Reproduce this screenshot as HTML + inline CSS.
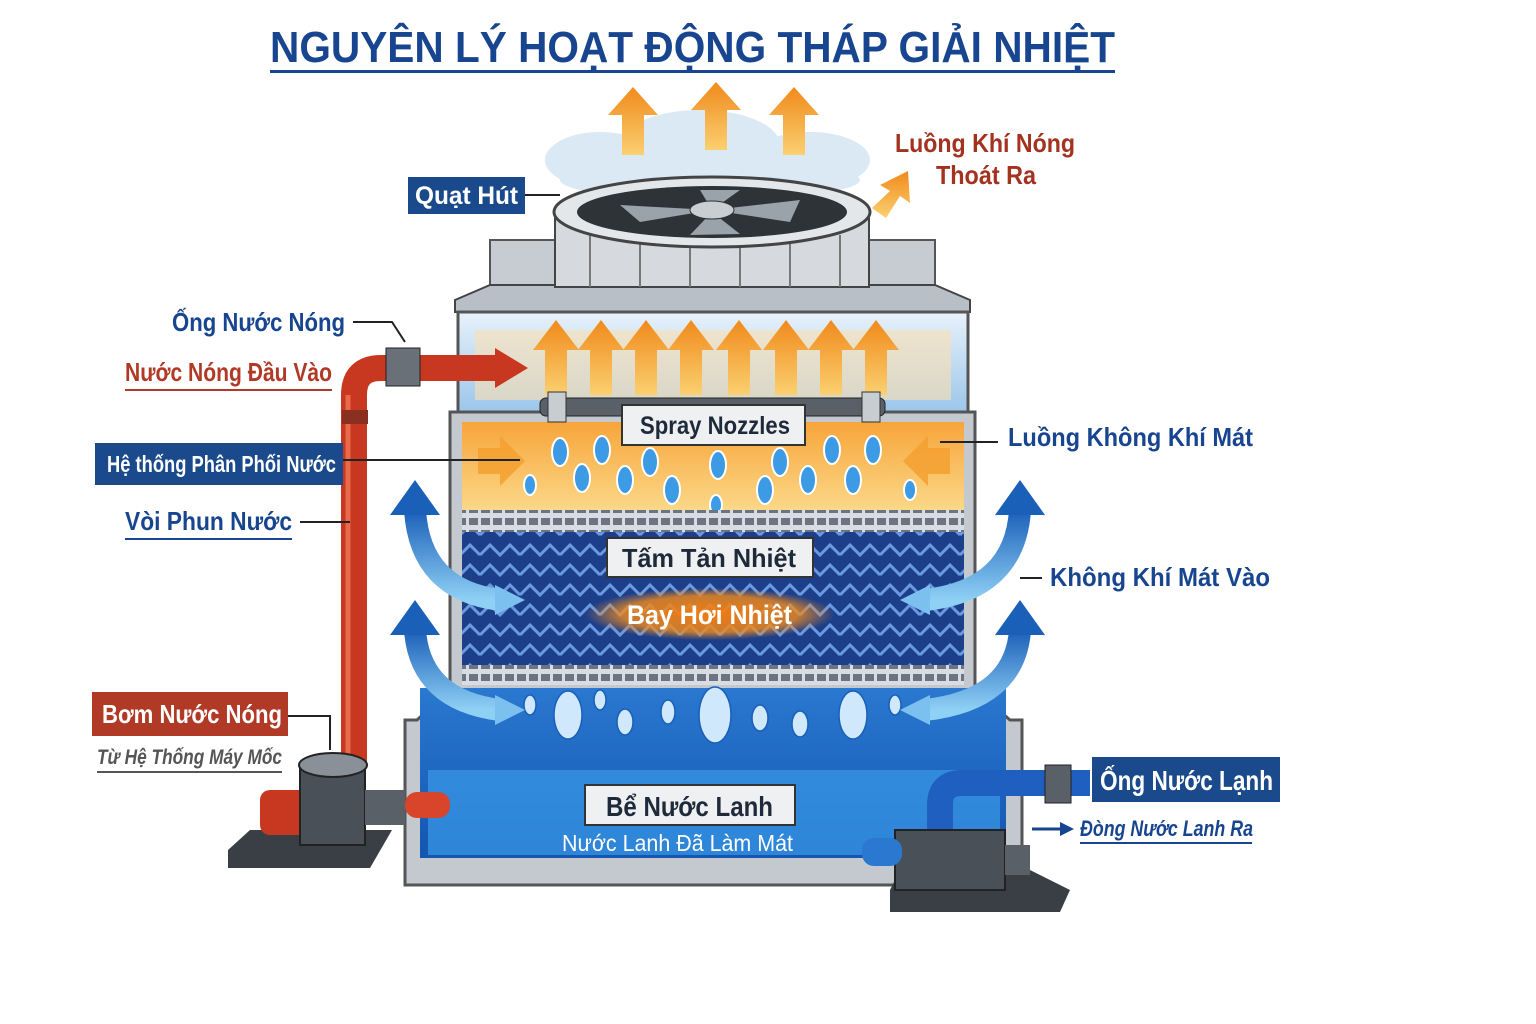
<!DOCTYPE html>
<html><head><meta charset="utf-8"><style>
html,body{margin:0;padding:0;background:#fff}
svg{display:block}
text{font-family:"Liberation Sans",sans-serif;font-weight:bold}
</style></head><body>
<svg width="1536" height="1024" viewBox="0 0 1536 1024" xmlns="http://www.w3.org/2000/svg">
<defs>
<linearGradient id="orange" x1="0" y1="0" x2="0" y2="1"><stop offset="0" stop-color="#f7a53a"/><stop offset="1" stop-color="#fbd98a"/></linearGradient>
<linearGradient id="water" x1="0" y1="0" x2="0" y2="1"><stop offset="0" stop-color="#2a78d0"/><stop offset="1" stop-color="#1456b0"/></linearGradient>
<linearGradient id="sky" x1="0" y1="0" x2="0" y2="1"><stop offset="0" stop-color="#e8f2fb"/><stop offset="1" stop-color="#9cc6ea"/></linearGradient>
<linearGradient id="arr" x1="0" y1="1" x2="0" y2="0"><stop offset="0" stop-color="#fbd070"/><stop offset="1" stop-color="#f08a1c"/></linearGradient>
<linearGradient id="barr" x1="0" y1="1" x2="0" y2="0"><stop offset="0" stop-color="#8fd0f5"/><stop offset="1" stop-color="#1a5fb8"/></linearGradient>
<radialGradient id="glow"><stop offset="0" stop-color="#f07a10"/><stop offset="0.7" stop-color="#f08a1c" stop-opacity="0.8"/><stop offset="1" stop-color="#f08a1c" stop-opacity="0"/></radialGradient>
<pattern id="zig" width="40" height="20" patternUnits="userSpaceOnUse"><rect width="40" height="20" fill="#1d3f8a"/><path d="M0 15 L10 5 L20 15 L30 5 L40 15" stroke="#6a9ae0" stroke-width="3" fill="none"/></pattern>
<pattern id="grate" width="12" height="12" patternUnits="userSpaceOnUse"><rect width="12" height="12" fill="#d8dde3"/><rect x="1" y="2" width="9" height="7" fill="#6b7480"/></pattern>
</defs>

<!-- title -->
<text x="270" y="62" textLength="845" lengthAdjust="spacingAndGlyphs" font-size="44" fill="#17458f">NGUYÊN LÝ HOẠT ĐỘNG THÁP GIẢI NHIỆT</text>
<rect x="270" y="70" width="845" height="3" fill="#17458f"/>

<!-- cloud -->
<g fill="#dbe9f5">
<ellipse cx="600" cy="160" rx="55" ry="28"/><ellipse cx="700" cy="145" rx="80" ry="35"/><ellipse cx="810" cy="160" rx="60" ry="28"/><ellipse cx="710" cy="180" rx="150" ry="20"/>
</g>
<g fill="url(#arr)">
<path d="M622 155 h22 v-40 h14 l-25 -28 l-25 28 h14z"/>
<path d="M705 150 h22 v-40 h14 l-25 -28 l-25 28 h14z"/>
<path d="M783 155 h22 v-40 h14 l-25 -28 l-25 28 h14z"/>
<path d="M872 208 l14 10 l14 -22 l10 7 l-2 -32 l-28 14 l10 6z"/>
</g>
<text x="895" y="152" textLength="180" lengthAdjust="spacingAndGlyphs" font-size="26" fill="#a3321f">Luồng Khí Nóng</text>
<text x="936" y="184" textLength="100" lengthAdjust="spacingAndGlyphs" font-size="26" fill="#a3321f">Thoát Ra</text>

<!-- roof -->
<polygon points="490,240 935,240 935,290 490,290" fill="#c7ccd2" stroke="#555" stroke-width="2"/>
<polygon points="455,300 490,285 935,285 970,300 970,312 455,312" fill="#b9bfc6" stroke="#444" stroke-width="2"/>
<rect x="555" y="212" width="314" height="75" fill="#d6dade" stroke="#444" stroke-width="2"/>
<g stroke="#777" stroke-width="2"><line x1="590" y1="235" x2="590" y2="287"/><line x1="640" y1="240" x2="640" y2="287"/><line x1="690" y1="242" x2="690" y2="287"/><line x1="740" y1="242" x2="740" y2="287"/><line x1="790" y1="240" x2="790" y2="287"/><line x1="840" y1="235" x2="840" y2="287"/></g>
<ellipse cx="712" cy="212" rx="158" ry="35" fill="#e4e7ea" stroke="#444" stroke-width="3"/>
<ellipse cx="712" cy="212" rx="135" ry="26" fill="#2e3338"/>
<g fill="#9aa2aa"><path d="M712 210 L620 205 L640 222z"/><path d="M712 210 L800 200 L790 222z"/><path d="M712 210 L700 190 L740 190z"/><path d="M712 212 L690 235 L740 234z"/></g>
<ellipse cx="712" cy="210" rx="22" ry="9" fill="#c9ced3" stroke="#333"/>
<rect x="408" y="177" width="117" height="37" fill="#1a4a8c"/>
<text x="415" y="204" textLength="103" lengthAdjust="spacingAndGlyphs" font-size="25" fill="#fff">Quạt Hút</text>
<line x1="525" y1="195" x2="560" y2="195" stroke="#222" stroke-width="2"/>

<!-- upper chamber -->
<rect x="458" y="312" width="510" height="100" fill="url(#sky)" stroke="#555" stroke-width="3"/>
<rect x="475" y="330" width="476" height="70" fill="#fbe0b0" opacity="0.6"/>
<g fill="url(#arr)">
<path d="M545 395 h22 v-45 h12 l-23 -30 l-23 30 h12z"/>
<path d="M590 395 h22 v-45 h12 l-23 -30 l-23 30 h12z"/>
<path d="M635 395 h22 v-45 h12 l-23 -30 l-23 30 h12z"/>
<path d="M680 395 h22 v-45 h12 l-23 -30 l-23 30 h12z"/>
<path d="M728 395 h22 v-45 h12 l-23 -30 l-23 30 h12z"/>
<path d="M775 395 h22 v-45 h12 l-23 -30 l-23 30 h12z"/>
<path d="M820 395 h22 v-45 h12 l-23 -30 l-23 30 h12z"/>
<path d="M865 395 h22 v-45 h12 l-23 -30 l-23 30 h12z"/>
</g>

<!-- main body -->
<polygon points="450,412 975,412 975,690 1010,720 1022,720 1022,885 405,885 405,720 417,720 450,690" fill="#c4c9cf" stroke="#555" stroke-width="3"/>
<rect x="462" y="422" width="502" height="90" fill="url(#orange)"/>
<g fill="#3d9be6" stroke="#fff" stroke-width="2">
<ellipse cx="560" cy="452" rx="8" ry="14"/><ellipse cx="602" cy="450" rx="8" ry="14"/><ellipse cx="650" cy="462" rx="8" ry="14"/><ellipse cx="718" cy="465" rx="8" ry="14"/><ellipse cx="780" cy="462" rx="8" ry="14"/><ellipse cx="832" cy="450" rx="8" ry="14"/><ellipse cx="873" cy="450" rx="8" ry="14"/>
<ellipse cx="582" cy="478" rx="8" ry="14"/><ellipse cx="625" cy="480" rx="8" ry="14"/><ellipse cx="672" cy="490" rx="8" ry="14"/><ellipse cx="765" cy="490" rx="8" ry="14"/><ellipse cx="808" cy="480" rx="8" ry="14"/><ellipse cx="853" cy="480" rx="8" ry="14"/><ellipse cx="530" cy="485" rx="6" ry="10"/><ellipse cx="910" cy="490" rx="6" ry="10"/><ellipse cx="716" cy="505" rx="6" ry="10"/>
</g>
<path d="M478 448 h22 v-12 l25 25 l-25 25 v-12 h-22z" fill="#f5a030" opacity="0.85"/>
<path d="M950 448 h-22 v-12 l-25 25 l25 25 v-12 h22z" fill="#f5a030" opacity="0.85"/>
<rect x="540" y="398" width="345" height="18" rx="6" fill="#5a6068" stroke="#222"/>
<rect x="548" y="392" width="18" height="30" fill="#c8cdd2" stroke="#333"/><rect x="862" y="392" width="18" height="30" fill="#c8cdd2" stroke="#333"/>
<rect x="622" y="405" width="183" height="40" fill="#eef0f2" stroke="#333" stroke-width="2"/>
<text x="640" y="434" textLength="150" lengthAdjust="spacingAndGlyphs" font-size="25" fill="#1e2a3a">Spray Nozzles</text>
<line x1="940" y1="442" x2="998" y2="442" stroke="#222" stroke-width="2"/>
<text x="1008" y="446" textLength="245" lengthAdjust="spacingAndGlyphs" font-size="26" fill="#17458f">Luồng Không Khí Mát</text>

<!-- fill -->
<rect x="462" y="510" width="502" height="22" fill="url(#grate)"/>
<rect x="462" y="532" width="502" height="135" fill="url(#zig)"/>
<rect x="462" y="665" width="502" height="20" fill="url(#grate)"/>
<rect x="607" y="538" width="206" height="39" fill="#eef0f2" stroke="#333" stroke-width="2"/>
<text x="622" y="567" textLength="174" lengthAdjust="spacingAndGlyphs" font-size="26" fill="#1e2a3a">Tấm Tản Nhiệt</text>
<ellipse cx="710" cy="614" rx="125" ry="26" fill="url(#glow)"/>
<text x="627" y="624" textLength="165" lengthAdjust="spacingAndGlyphs" font-size="27" fill="#fff">Bay Hơi Nhiệt</text>

<!-- basin -->
<rect x="420" y="688" width="586" height="170" fill="url(#water)"/>
<rect x="428" y="770" width="572" height="85" fill="#3a9ae8" opacity="0.7"/>
<g fill="#cfe8fb" stroke="#1a5fb8" stroke-width="1.5">
<ellipse cx="568" cy="715" rx="14" ry="24"/><ellipse cx="715" cy="715" rx="16" ry="28"/><ellipse cx="853" cy="715" rx="14" ry="24"/><ellipse cx="625" cy="722" rx="8" ry="13"/><ellipse cx="668" cy="712" rx="7" ry="12"/><ellipse cx="760" cy="718" rx="8" ry="13"/><ellipse cx="800" cy="724" rx="8" ry="13"/><ellipse cx="530" cy="705" rx="6" ry="10"/><ellipse cx="895" cy="705" rx="6" ry="10"/><ellipse cx="600" cy="700" rx="6" ry="10"/>
</g>
<rect x="585" y="785" width="210" height="40" fill="#eef0f2" stroke="#333" stroke-width="2"/>
<text x="606" y="816" textLength="167" lengthAdjust="spacingAndGlyphs" font-size="28" fill="#1e2a3a">Bể Nước Lanh</text>
<text x="562" y="851" textLength="231" lengthAdjust="spacingAndGlyphs" font-size="23" fill="#fff" style="font-weight:normal">Nước Lanh Đã Làm Mát</text>

<!-- blue air arrows -->
<g fill="none" stroke="url(#barr)" stroke-width="22">
<path d="M500 600 Q420 590 415 510"/><path d="M500 710 Q420 700 415 630"/>
<path d="M925 600 Q1015 590 1020 510"/><path d="M925 710 Q1015 700 1020 630"/>
</g>
<g fill="#1a5fb8"><path d="M390 515 l25 -35 l25 35z"/><path d="M390 635 l25 -35 l25 35z"/><path d="M995 515 l25 -35 l25 35z"/><path d="M995 635 l25 -35 l25 35z"/></g>
<g fill="#7cc0f0"><path d="M495 585 l30 15 l-30 15z"/><path d="M495 695 l30 15 l-30 15z"/><path d="M930 585 l-30 15 l30 15z"/><path d="M930 695 l-30 15 l30 15z"/></g>
<line x1="1020" y1="578" x2="1042" y2="578" stroke="#222" stroke-width="2"/>
<text x="1050" y="586" textLength="220" lengthAdjust="spacingAndGlyphs" font-size="26" fill="#17458f">Không Khí Mát Vào</text>

<!-- red pipe -->
<path d="M354 765 V395 Q354 368 381 368 H500" stroke="#c8371f" stroke-width="26" fill="none"/>
<path d="M348 765 V395" stroke="#e86a4a" stroke-width="5" fill="none"/>
<polygon points="495,348 528,368 495,388" fill="#c8371f"/>
<rect x="386" y="348" width="34" height="38" fill="#6a7078" stroke="#222"/>
<rect x="342" y="410" width="26" height="14" fill="#8a3020"/>

<!-- left pump -->
<polygon points="228,850 250,830 392,830 370,868 228,868" fill="#3a3f45"/>
<rect x="260" y="790" width="50" height="45" rx="10" fill="#c8371f"/>
<rect x="300" y="765" width="65" height="80" fill="#4a5058" stroke="#222" stroke-width="2"/>
<ellipse cx="333" cy="765" rx="34" ry="12" fill="#8a9098" stroke="#222" stroke-width="2"/>
<rect x="365" y="790" width="40" height="35" fill="#5a6068"/>
<rect x="405" y="792" width="45" height="26" rx="12" fill="#d8452a"/>
<rect x="92" y="692" width="196" height="44" fill="#b03a26"/>
<text x="102" y="723" textLength="180" lengthAdjust="spacingAndGlyphs" font-size="26" fill="#fff">Bơm Nước Nóng</text>
<path d="M288 716 H330 V750" stroke="#222" stroke-width="2" fill="none"/>
<text x="97" y="764" textLength="185" lengthAdjust="spacingAndGlyphs" font-size="21" font-style="italic" fill="#555">Từ Hệ Thống Máy Mốc</text>
<rect x="97" y="771" width="185" height="2" fill="#555"/>

<!-- left labels -->
<text x="172" y="331" textLength="173" lengthAdjust="spacingAndGlyphs" font-size="26" fill="#17458f">Ống Nước Nóng</text>
<path d="M353 322 H392 L405 342" stroke="#222" stroke-width="2" fill="none"/>
<text x="125" y="381" textLength="207" lengthAdjust="spacingAndGlyphs" font-size="26" fill="#b03a26">Nước Nóng Đầu Vào</text>
<rect x="125" y="389" width="207" height="2" fill="#b03a26"/>
<rect x="95" y="443" width="248" height="42" fill="#1a4a8c"/>
<text x="107" y="472" textLength="229" lengthAdjust="spacingAndGlyphs" font-size="23" fill="#fff">Hệ thống Phân Phối Nước</text>
<line x1="343" y1="460" x2="520" y2="460" stroke="#222" stroke-width="2"/>
<text x="125" y="530" textLength="167" lengthAdjust="spacingAndGlyphs" font-size="26" fill="#17458f">Vòi Phun Nước</text>
<rect x="125" y="538" width="167" height="2" fill="#17458f"/>
<line x1="300" y1="522" x2="350" y2="522" stroke="#222" stroke-width="2"/>

<!-- right pump -->
<polygon points="890,890 900,870 1030,870 1070,890 1060,912 890,912" fill="#3a3f45"/>
<path d="M940 840 V805 Q940 783 962 783 H1090" stroke="#1f5fbf" stroke-width="26" fill="none"/>
<rect x="1045" y="765" width="26" height="38" fill="#5a6068" stroke="#222"/>
<rect x="895" y="830" width="110" height="60" fill="#4a5058" stroke="#222" stroke-width="2"/>
<rect x="862" y="838" width="40" height="28" rx="12" fill="#2a78d0"/>
<rect x="1005" y="845" width="25" height="30" fill="#5a6068"/>
<rect x="1092" y="757" width="188" height="45" fill="#1a4a8c"/>
<text x="1100" y="790" textLength="173" lengthAdjust="spacingAndGlyphs" font-size="28" fill="#fff">Ống Nước Lạnh</text>
<line x1="1032" y1="829" x2="1062" y2="829" stroke="#17458f" stroke-width="3"/>
<polygon points="1060,822 1074,829 1060,836" fill="#17458f"/>
<text x="1080" y="836" textLength="173" lengthAdjust="spacingAndGlyphs" font-size="22" font-style="italic" fill="#17458f">Đòng Nước Lanh Ra</text>
<rect x="1080" y="842" width="172" height="2" fill="#17458f"/>
</svg>
</body></html>
